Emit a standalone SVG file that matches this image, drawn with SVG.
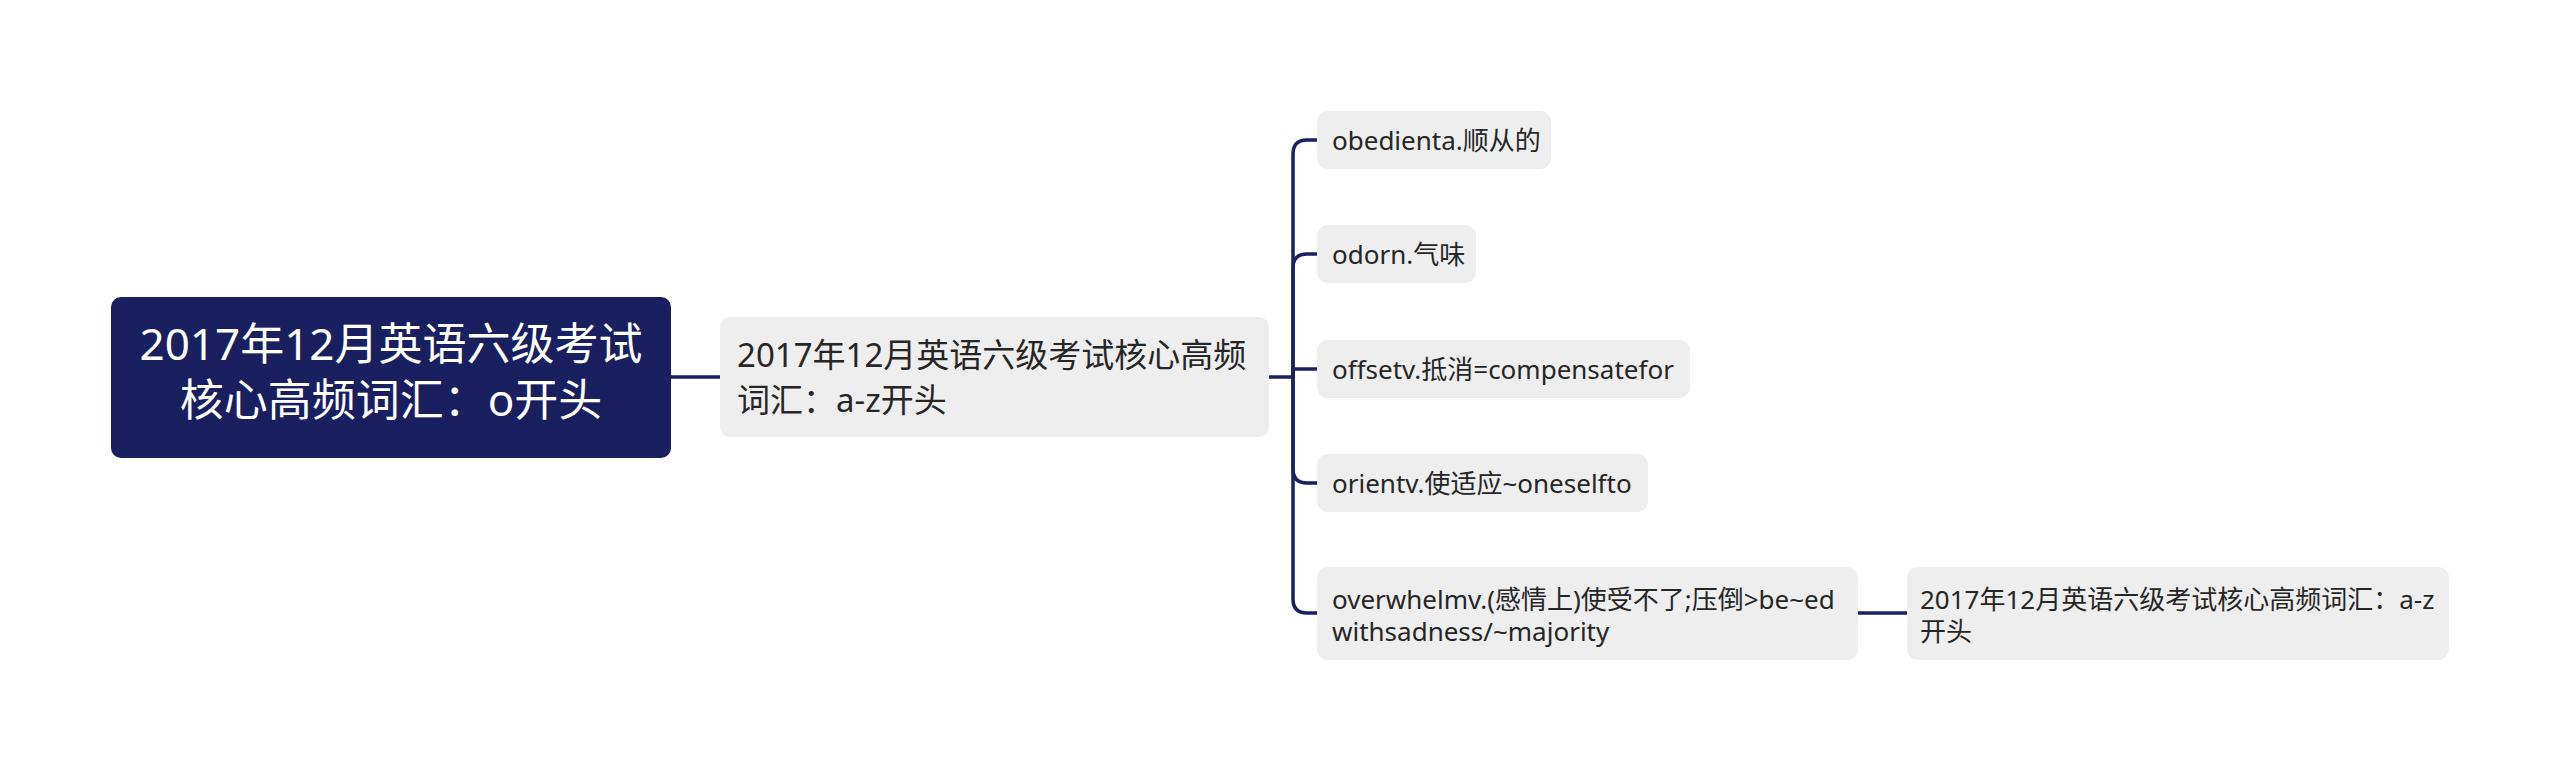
<svg xmlns="http://www.w3.org/2000/svg" width="2560" height="771" viewBox="0 0 2560 771">
<style>
.conn{fill:none;stroke:#1b2062;stroke-width:3.5;stroke-linecap:round;stroke-linejoin:round}
.leaf rect{fill:#eeeeee}
.leaf text, .sub text{font-family:"Noto Sans","Noto Sans CJK SC",sans-serif;fill:#262626}
.leaf text{font-size:26px}
.sub text{font-size:33px}
.sub rect{fill:#eeeeee}
.root rect{fill:#1a1f5f}
.root text{font-family:"Noto Sans","Noto Sans CJK SC",sans-serif;font-size:44px;fill:#ffffff;text-anchor:middle}
</style>
<rect width="2560" height="771" fill="#ffffff"/>
<g id="connectors">
<path class="conn" d="M671 377 H720"/>
<path class="conn" d="M1269 377 H1293"/>
<path class="conn" d="M1293 377 V154 Q1293 140 1307 140 H1317"/>
<path class="conn" d="M1293 377 V268 Q1293 254 1307 254 H1317"/>
<path class="conn" d="M1293 377 V369 H1317"/>
<path class="conn" d="M1293 377 V469 Q1293 483 1307 483 H1317"/>
<path class="conn" d="M1293 377 V599 Q1293 613 1307 613 H1317"/>
<path class="conn" d="M1858 613 H1907"/>
</g>
<g id="root" class="root">
<rect x="111" y="297" width="560" height="161" rx="10"/>
<text x="391" y="360">2017年12月英语六级考试</text>
<text x="391" y="416">核心高频词汇：o开头</text>
</g>
<g id="sub" class="sub">
<rect x="720" y="317" width="549" height="120" rx="10"/>
<text x="737" y="367">2017年12月英语六级考试核心高频</text>
<text x="737" y="412">词汇：a-z开头</text>
</g>
<g id="leaf1" class="leaf">
<rect x="1317" y="111" width="234" height="58" rx="11"/>
<text x="1332" y="150">obedienta.顺从的</text>
</g>
<g id="leaf2" class="leaf">
<rect x="1317" y="225" width="159" height="58" rx="11"/>
<text x="1332" y="264">odorn.气味</text>
</g>
<g id="leaf3" class="leaf">
<rect x="1317" y="340" width="373" height="58" rx="11"/>
<text x="1332" y="379">offsetv.抵消=compensatefor</text>
</g>
<g id="leaf4" class="leaf">
<rect x="1317" y="454" width="331" height="58" rx="11"/>
<text x="1332" y="493">orientv.使适应~oneselfto</text>
</g>
<g id="leaf5" class="leaf">
<rect x="1317" y="567" width="541" height="93" rx="11"/>
<text x="1332" y="609">overwhelmv.(感情上)使受不了;压倒&gt;be~ed</text>
<text x="1332" y="641">withsadness/~majority</text>
</g>
<g id="leaf6" class="leaf">
<rect x="1907" y="567" width="542" height="93" rx="11"/>
<text x="1920" y="609">2017年12月英语六级考试核心高频词汇：a-z</text>
<text x="1920" y="641">开头</text>
</g>
</svg>
